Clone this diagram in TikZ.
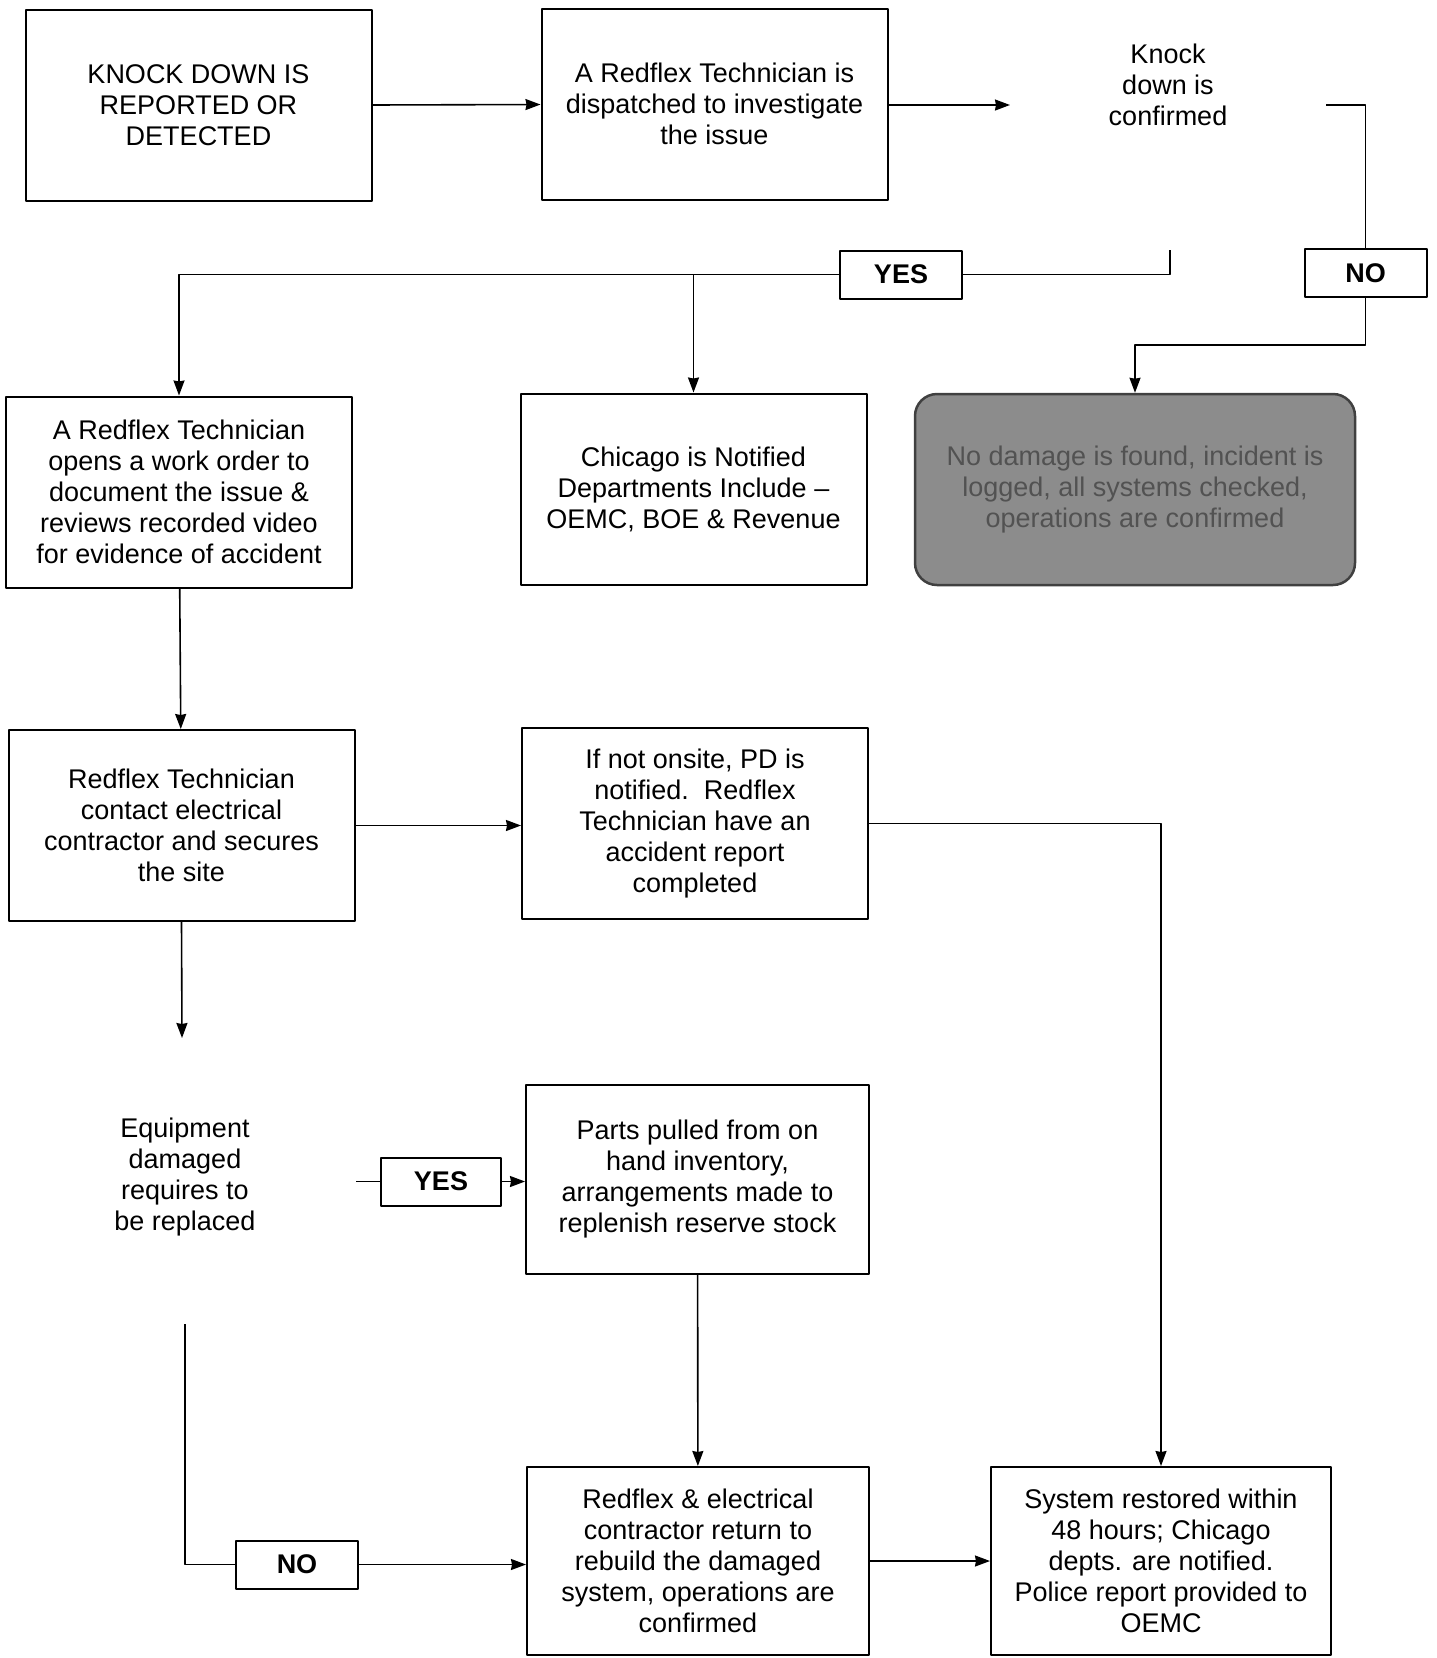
\documentclass[tikz,border=0pt]{standalone}
\usepackage{fontspec}
\setmainfont{Liberation Sans}
\usetikzlibrary{positioning,arrows.meta}
\tikzset{
  stepbox/.style={draw, line width=2pt, align=center, minimum width=346, minimum height=191, inner sep=0pt},
  tagbox/.style={draw, line width=2pt, font=\fontsize{27}{31}\selectfont\bfseries, minimum width=122, minimum height=48, inner sep=0pt},
  plain/.style={align=center, inner sep=0pt},
  link/.style={line width=1.6pt}
}
\begin{document}
\begin{tikzpicture}[x=1pt, y=-1pt, >={Stealth[length=15pt,width=11pt,inset=1pt]}, font=\fontsize{27}{31}\selectfont, line join=round]
\useasboundingbox (0,0) rectangle (1437,1658);
% boxes
\node[stepbox] (report) at (198.5,105.5) {KNOCK DOWN IS\\REPORTED OR\\DETECTED};
\node[stepbox] (dispatch) at (714.5,104) {A Redflex Technician is\\dispatched to investigate\\the issue};
\node[plain] (confirm) at (1168,85) {Knock\\down is\\confirmed};
\node[tagbox] (no1) at (1365.5,273) {NO};
\node[tagbox] (yes1) at (901,274.5) {YES};
\node[stepbox] (workorder) at (179,492) {A Redflex Technician\\opens a work order to\\document the issue \&\\reviews recorded video\\for evidence of accident};
\node[stepbox] (notified) at (693.5,489) {Chicago is Notified\\Departments Include --\\OEMC, BOE \& Revenue};
\node[draw=black!75, fill=black!45, line width=2.5pt, rounded corners=22pt, align=center, text=black!68,
  minimum width=440, minimum height=191, inner sep=0pt] (logged) at (1135,489.5)
  {No damage is found, incident is\\logged, all systems checked,\\operations are confirmed};
\node[stepbox] (secure) at (181.5,825.5) {Redflex Technician\\contact electrical\\contractor and secures\\the site};
\node[stepbox] (police) at (695,823.5) {If not onsite, PD is\\notified.\ \ Redflex\\Technician have an\\accident report\\completed};
\node[plain] (damaged) at (185,1177) {Equipment\\damaged\\requires to\\be replaced};
\node[tagbox, minimum width=120] (yes2) at (441,1181.5) {YES};
\node[stepbox, minimum width=343, minimum height=189] (parts) at (697.5,1179.5) {Parts pulled from on\\hand inventory,\\arrangements made to\\replenish reserve stock};
\node[tagbox] (no2) at (297,1564.5) {NO};
\node[stepbox, minimum width=342, minimum height=188] (rebuild) at (698,1561) {Redflex \& electrical\\contractor return to\\rebuild the damaged\\system, operations are\\confirmed};
\node[stepbox, minimum width=340, minimum height=188] (restored) at (1161,1561) {System restored within\\48 hours; Chicago\\depts. are notified.\\Police report provided to\\OEMC};
% free ends
\coordinate (kdArrow) at (1010,105);
\coordinate (kdNo) at (1326,105);
\coordinate (kdYes) at (1170,250);
\coordinate (eqArrow) at (182,1038);
\coordinate (eqYes) at (356,1181.5);
\coordinate (eqNo) at (185,1324);
% connectors
\draw[link,->] (report) -- (dispatch);
\draw[link,->] (dispatch.east |- kdArrow) -- (kdArrow);
\draw[link] (kdNo) -| (no1.north);
\draw[link,->] (no1.south) -- ++(0,47) -| (logged.north);
\draw[link] (kdYes) |- (yes1.east);
\draw[link,->] (yes1.west) -| (workorder.north);
\draw[link,->] (notified.north |- yes1.west) -- (notified.north);
\draw[link,->] (workorder) -- (secure);
\draw[link,->] (secure.east) -- (secure.east -| police.west);
\draw[link,->] (police.east) -| (restored.north);
\draw[link,->] (secure.south) -- (eqArrow);
\draw[link] (eqYes) -- (yes2.west);
\draw[link,->] (yes2.east) -- (yes2.east -| parts.west);
\draw[link,->] (parts) -- (rebuild);
\draw[link] (eqNo) |- (no2.west);
\draw[link,->] (no2.east) -- (no2.east -| rebuild.west);
\draw[link,->] (rebuild) -- (restored);
\end{tikzpicture}
\end{document}
